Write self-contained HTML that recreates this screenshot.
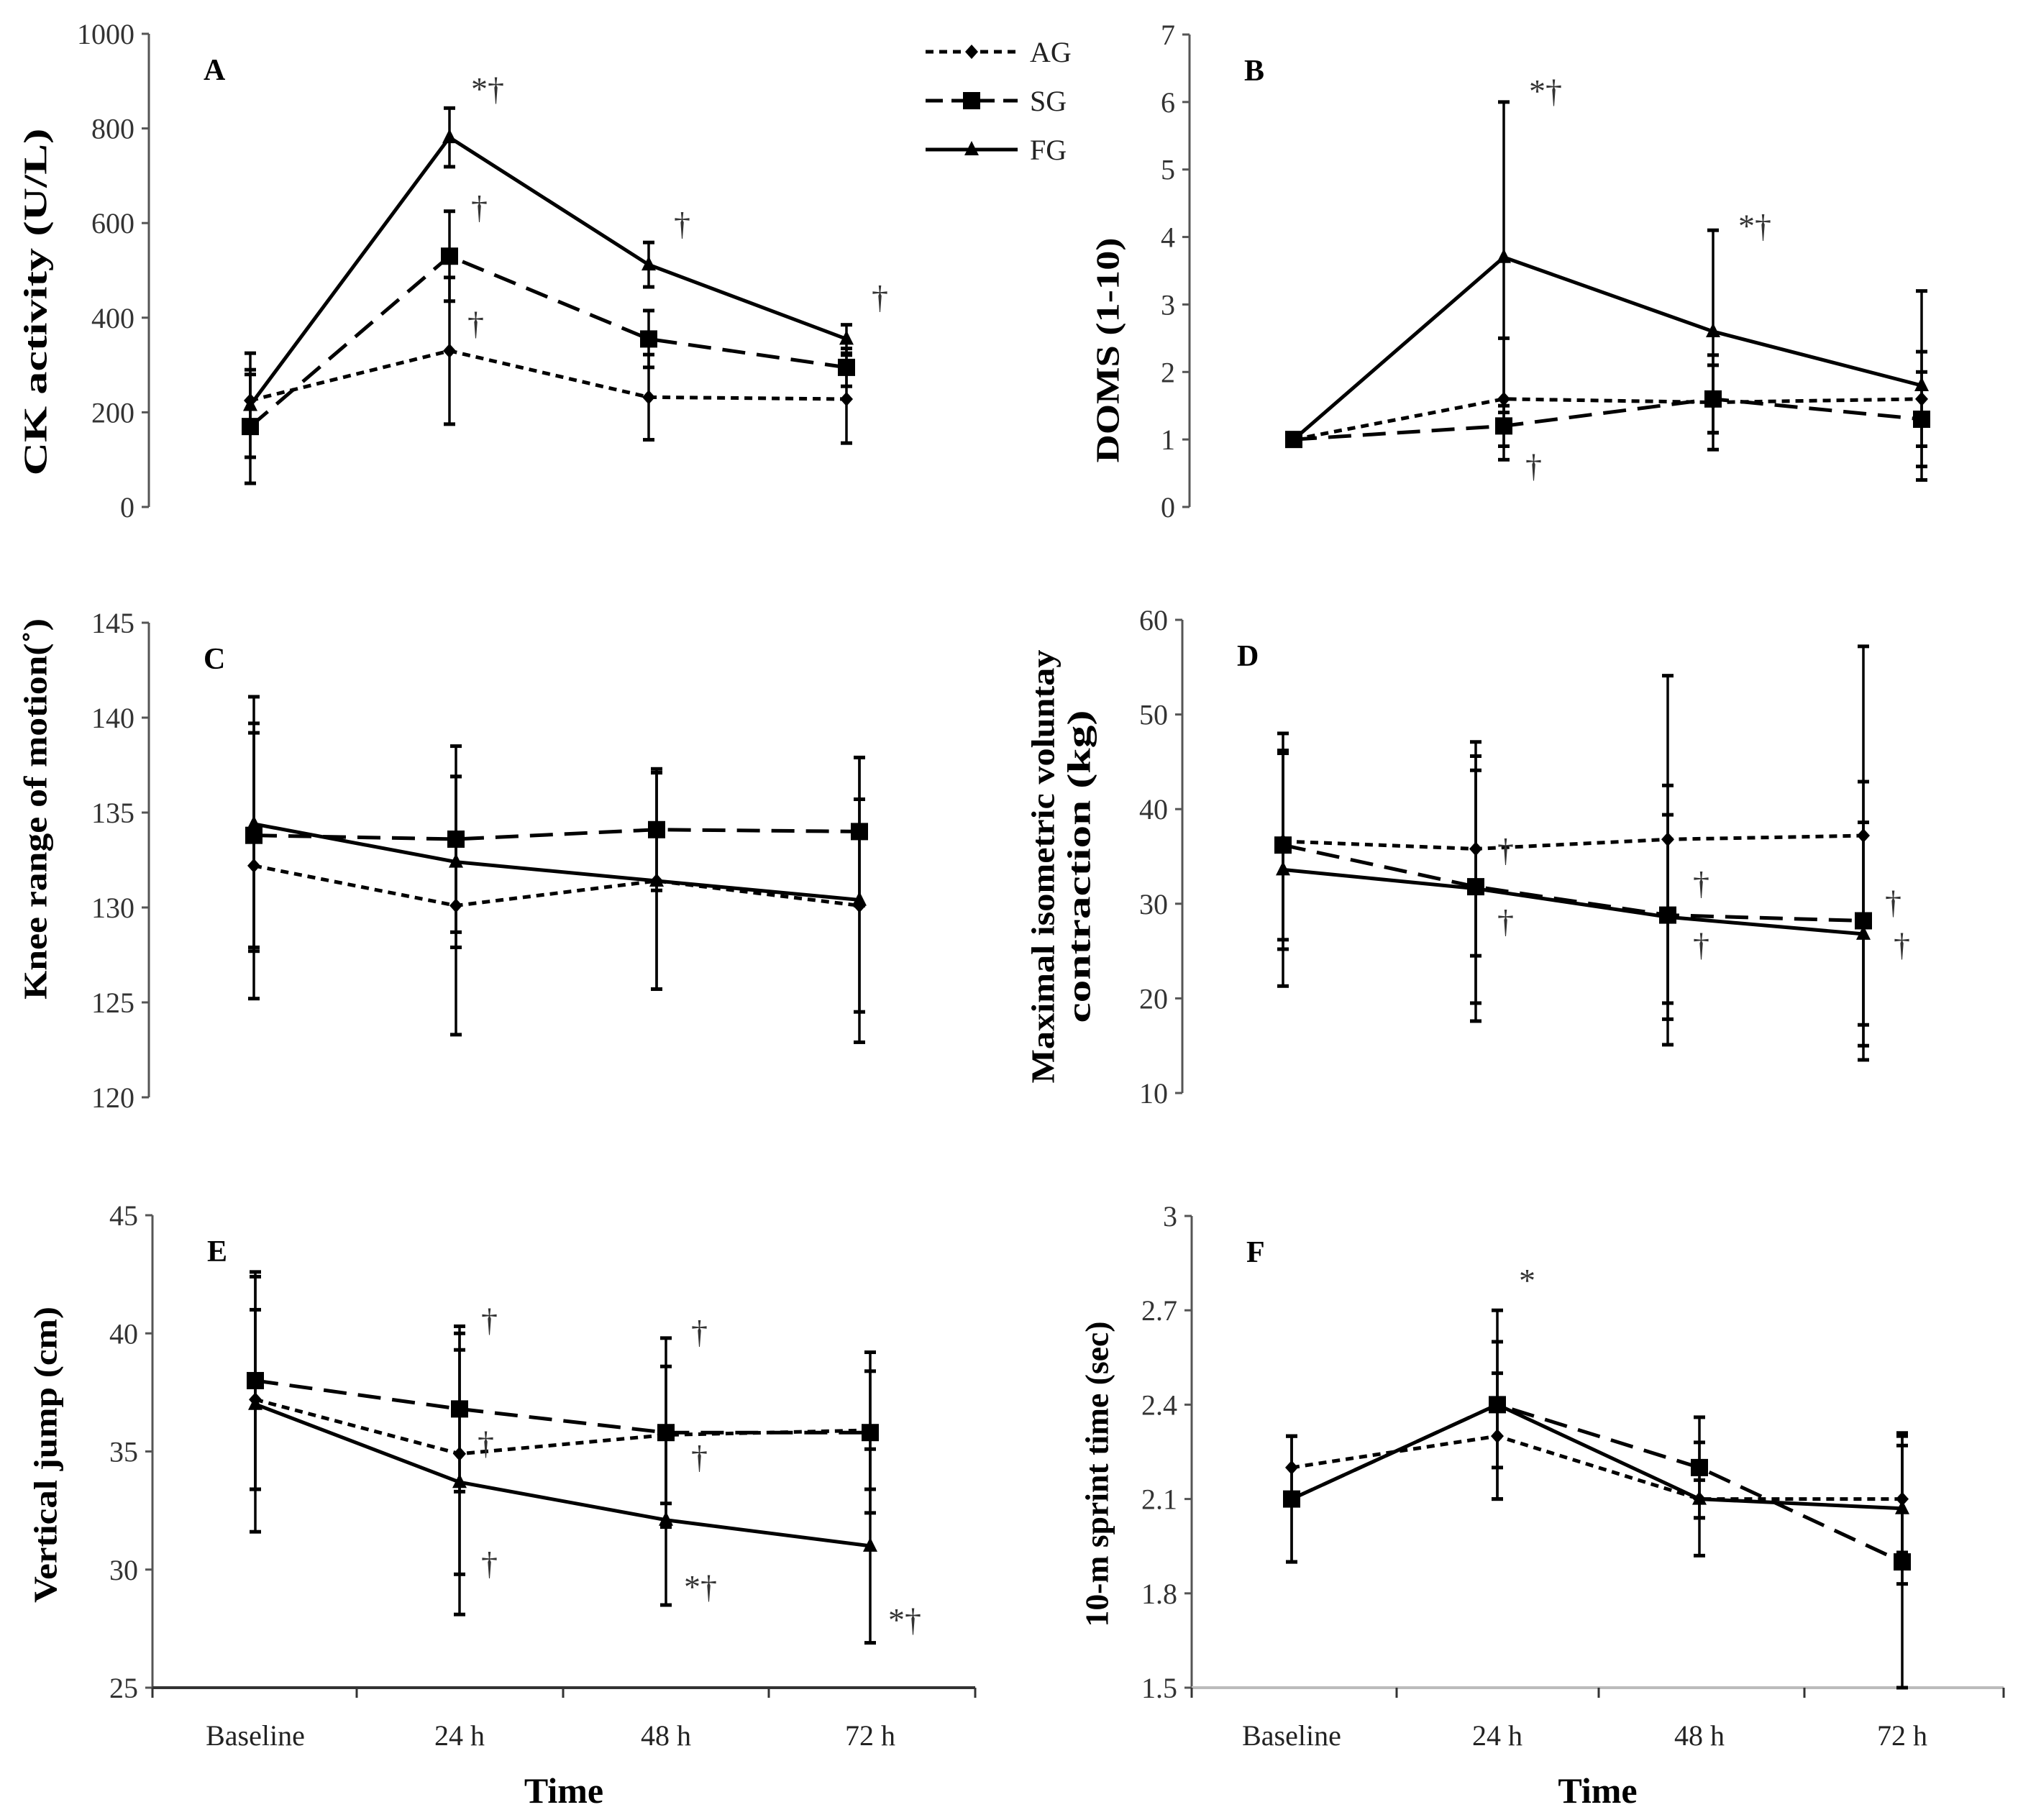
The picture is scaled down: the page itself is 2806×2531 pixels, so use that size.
<!DOCTYPE html>
<html><head><meta charset="utf-8"><style>
html,body{margin:0;padding:0;background:#fff}
svg{display:block}
text{font-family:"Liberation Serif",serif}
</style></head><body>
<svg id="fig" width="2806" height="2531" viewBox="0 0 2806 2531" xmlns="http://www.w3.org/2000/svg"></svg>
<script>
const categories=["Baseline","24 h","48 h","72 h"];
const seriesNames=["AG","SG","FG"];
// Panel A: CK activity
const aAG=[225,330,232,228], aSG=[170,530,355,295], aFG=[215,781,512,355];
const aAGsd=[55,155,90,93], aSGsd=[120,95,60,40], aFGsd=[110,62,47,30];
const aTicks=[0,200,400,600,800,1000];
// Panel B: DOMS
const bAG=[1,1.6,1.55,1.6], bSG=[1,1.2,1.6,1.3], bFG=[1,3.7,2.6,1.8];
const bAGsd=[0,0.9,0.7,0.7], bSGsd=[0,0.3,0.5,0.7], bFGsd=[0,2.3,1.5,1.4];
const bTicks=[0,1,2,3,4,5,6,7];
// Panel C: Knee ROM
const cAG=[132.2,130.1,131.4,130.1], cSG=[133.8,133.6,134.1,134.0], cFG=[134.4,132.4,131.4,130.4];
const cAGsd=[7.0,6.8,5.7,5.6], cSGsd=[5.9,4.9,3.2,3.9], cFGsd=[6.7,4.5,5.7,7.5];
const cTicks=[120,125,130,135,140,145];
// Panel D: MIVC
const dAG=[36.6,35.8,36.8,37.2], dSG=[36.2,31.8,28.8,28.2], dFG=[33.6,31.6,28.6,26.8];
const dAGsd=[11.4,11.3,17.3,20], dSGsd=[10,12.3,13.7,14.7], dFGsd=[12.3,14,10.8,11.8];
const dTicks=[10,20,30,40,50,60];
// Panel E: Vertical jump
const eAG=[37.2,34.9,35.7,35.9], eSG=[38,36.8,35.8,35.8], eFG=[37,33.7,32.1,31.0];
const eAGsd=[3.8,5.1,2.9,2.5], eSGsd=[4.6,3.5,4,3.4], eFGsd=[5.4,5.6,3.6,4.1];
const eTicks=[25,30,35,40,45];
// Panel F: sprint
const fAG=[2.2,2.3,2.1,2.1], fSG=[2.1,2.4,2.2,1.9], fFG=[2.1,2.4,2.1,2.07];
const fAGsd=[0.1,0.2,0.06,0.17], fSGsd=[0.2,0.2,0.16,0.4], fFGsd=[0.2,0.3,0.18,0.24];
const fTicks=["1.5","1.8","2.1","2.4","2.7","3"];

const NS="http://www.w3.org/2000/svg";
const svg=document.getElementById('fig');
function el(tag,attrs,parent){const e=document.createElementNS(NS,tag);for(const k in attrs)e.setAttribute(k,attrs[k]);(parent||svg).appendChild(e);return e;}
const dashes=["11,8","32,16",null];

const panels=[
 {id:"a",letter:"A",label:["CK activity (U/L)"],tl:[483],data:[aAG,aSG,aFG],sd:[aAGsd,aSGsd,aFGsd],ticks:aTicks,min:0,max:1000,
  ax:207,top:47,bot:705,cx:[348,625,902,1177],lx:[54],lcy:420,xaxis:false,
  notes:[["*†",1,860,30],["†",1,610,30],["†",1,365,25],["†",2,575,35],["†",3,420,35]]},
 {id:"b",letter:"B",label:["DOMS (1-10)"],tl:[313],data:[bAG,bSG,bFG],sd:[bAGsd,bSGsd,bFGsd],ticks:bTicks,min:0,max:7,
  ax:1654,top:48,bot:705,cx:[1799,2091,2382,2672],lx:[1545],lcy:487,xaxis:false,
  notes:[["*†",1,6.0,35],["†",1,0.45,30],["*†",2,4.0,35]]},
 {id:"c",letter:"C",label:["Knee range of motion(˚)"],tl:[530],data:[cAG,cSG,cFG],sd:[cAGsd,cSGsd,cFGsd],ticks:cTicks,min:120,max:145,
  ax:207,top:866,bot:1526,cx:[353,634,913,1195],lx:[54],lcy:1125,xaxis:false,notes:[]},
 {id:"d",letter:"D",label:["Maximal isometric voluntay","contraction (kg)"],tl:[603,435],data:[dAG,dSG,dFG],sd:[dAGsd,dSGsd,dFGsd],ticks:dTicks,min:10,max:60,
  ax:1644,top:862,bot:1520,cx:[1784,2052,2319,2591],lx:[1455,1505],lcy:1205,xaxis:false,
  notes:[["†",1,34.5,30],["†",1,27,30],["†",2,31,35],["†",2,24.5,35],["†",3,29,30],["†",3,24.5,42]]},
 {id:"e",letter:"E",label:["Vertical jump (cm)"],tl:[412],data:[eAG,eSG,eFG],sd:[eAGsd,eSGsd,eFGsd],ticks:eTicks,min:25,max:45,
  ax:212,top:1690,bot:2347,cx:[355,639,926,1210],lx:[68],lcy:2023,xaxis:true,xend:1356,xt:[212,496,783,1069,1356],axColor:"#333",
  notes:[["†",1,40.1,30],["†",1,34.9,25],["†",1,29.8,30],["†",2,39.6,35],["†",2,34.3,35],["*†",2,28.8,25],["*†",3,27.4,25]]},
 {id:"f",letter:"F",label:["10-m sprint time (sec)"],tl:[425],data:[fAG,fSG,fFG],sd:[fAGsd,fSGsd,fFGsd],ticks:fTicks.map(Number),tickLabels:fTicks,min:1.5,max:3,
  ax:1657,top:1691,bot:2347,cx:[1796,2082,2363,2645],lx:[1530],lcy:2050,xaxis:true,xend:2786,xt:[1657,1942,2223,2509,2786],axColor:"#bbb",
  notes:[["*",1,2.76,30]]}
];

function marker(g,s,x,y){
  if(s===0){const m=el('polygon',{points:`${x},${y-10} ${x+9},${y} ${x},${y+10} ${x-9},${y}`,fill:'#000'},g);}
  else if(s===1){const m=el('rect',{x:x-12,y:y-12,width:24,height:24,fill:'#000'},g);}
  else {const m=el('polygon',{points:`${x},${y-12} ${x+10},${y+8} ${x-10},${y+8}`,fill:'#000'},g);}
}

panels.forEach(p=>{
  const g=el('g',{});
  
  
  const Y=v=>p.bot-(v-p.min)/(p.max-p.min)*(p.bot-p.top);
  const X=i=>p.cx[i];
  const ya=el('line',{x1:p.ax,y1:p.top,x2:p.ax,y2:p.bot,stroke:'#555','stroke-width':3},g);
  
  p.ticks.forEach((t,i)=>{
    el('line',{x1:p.ax-10,y1:Y(t),x2:p.ax,y2:Y(t),stroke:'#555','stroke-width':3},g);
    const tl=el('text',{x:p.ax-20,y:Y(t)+14,'text-anchor':'end','font-size':40,fill:'#333'},g);
    tl.textContent=p.tickLabels?p.tickLabels[i]:String(t);
    
  });
  p.label.forEach((L,k)=>{
    const lt=el('text',{x:p.lx[k],y:p.lcy,'text-anchor':'middle','font-size':46,'font-weight':'bold',textLength:p.tl[k],lengthAdjust:'spacingAndGlyphs',transform:`rotate(-90 ${p.lx[k]} ${p.lcy})`,'dominant-baseline':'middle'},g);
    lt.textContent=L;
    
  });
  const lt=el('text',{x:p.ax+76,y:p.top+64,'font-size':42,'font-weight':'bold'},g);
  lt.textContent=p.letter;
  
  if(p.xaxis){
    const xa=el('line',{x1:p.ax,y1:p.bot,x2:p.xend,y2:p.bot,stroke:p.axColor,'stroke-width':4},g);
    
    p.xt.forEach(x=>el('line',{x1:x,y1:p.bot,x2:x,y2:p.bot+14,stroke:'#333','stroke-width':3},g));
    categories.forEach((c,i)=>{
      const t=el('text',{x:X(i),y:p.bot+80,'text-anchor':'middle','font-size':40,fill:'#222'},g);
      t.textContent=c;
      
    });
    const tt=el('text',{x:(p.ax+p.xend)/2,y:p.bot+160,'text-anchor':'middle','font-size':50,'font-weight':'bold'},g);
    tt.textContent='Time';
    
  }
  p.data.forEach((d,s)=>{
    d.forEach((v,i)=>{
      const sdv=p.sd[s][i]; if(!sdv) return;
      const eb=el('g',{},g);
      
      el('line',{x1:X(i),y1:Y(v+sdv),x2:X(i),y2:Y(v-sdv),stroke:'#000','stroke-width':3.5},eb);
      el('line',{x1:X(i)-8,y1:Y(v+sdv),x2:X(i)+8,y2:Y(v+sdv),stroke:'#000','stroke-width':5},eb);
      el('line',{x1:X(i)-8,y1:Y(v-sdv),x2:X(i)+8,y2:Y(v-sdv),stroke:'#000','stroke-width':5},eb);
    });
  });
  p.data.forEach((d,s)=>{
    const pts=d.map((v,i)=>X(i)+','+Y(v)).join(' ');
    const attrs={points:pts,fill:'none',stroke:'#000','stroke-width':5};
    if(dashes[s])attrs['stroke-dasharray']=dashes[s];
    const pl=el('polyline',attrs,g);
    
    
    d.forEach((v,i)=>marker(g,s,X(i),Y(v)));
  });
  p.notes.forEach(n=>{
    const t=el('text',{x:X(n[1])+n[3],y:Y(n[2]),'font-size':46,fill:'#333'},g);
    t.textContent=n[0];
    
  });
});

const lg=el('g',{});


const legY=[72,140,208];
seriesNames.forEach((n,s)=>{
  const e=el('g',{},lg);
  
  
  const a={x1:1287,y1:legY[s],x2:1415,y2:legY[s],stroke:'#000','stroke-width':5};
  if(dashes[s])a['stroke-dasharray']=s===0?"11,8":"24,12";
  el('line',a,e);
  marker(e,s,1351,legY[s]);
  const t=el('text',{x:1432,y:legY[s]+14,'font-size':40,fill:'#222'},e);
  t.textContent=n;
});
</script>
</body></html>
